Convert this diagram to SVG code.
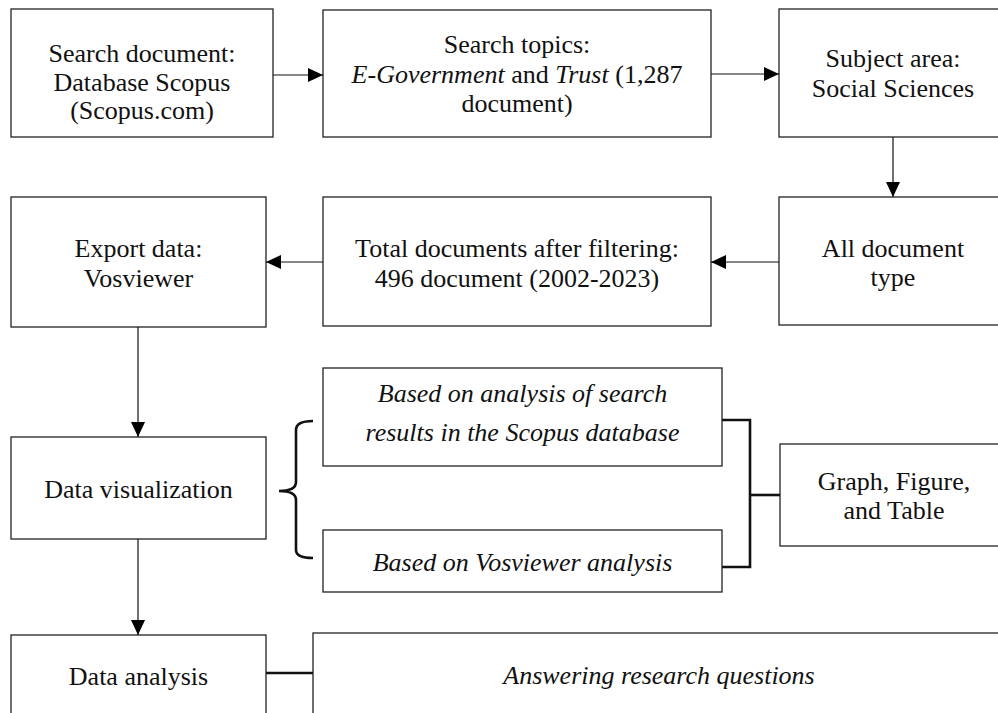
<svg xmlns="http://www.w3.org/2000/svg" width="998" height="713" viewBox="0 0 998 713">
<style>
.box{fill:#fff;stroke:#222;stroke-width:1.3}
text{font-family:"Liberation Serif","Times New Roman",serif;font-size:26px;fill:#111;text-anchor:middle}
.it{font-style:italic}
.conn{stroke:#111;stroke-width:1.2;fill:none}
.thick{stroke:#111;stroke-width:2.6;fill:none}
</style>
<defs>
<marker id="ah" markerUnits="userSpaceOnUse" markerWidth="16" markerHeight="14" refX="15" refY="7" orient="auto">
<path d="M0,0 L15,7 L0,14 Z" fill="#000"/>
</marker>
</defs>
<rect width="998" height="713" fill="#fff"/>
<g id="n1"><rect class="box" x="11" y="9" width="262" height="128"/>
<text x="142" y="62">Search document:</text><text x="142" y="91">Database Scopus</text><text x="142" y="119">(Scopus.com)</text></g>
<g id="n2"><rect class="box" x="323" y="10" width="388" height="127"/>
<text x="517" y="53">Search topics:</text>
<text x="517" y="83"><tspan class="it">E-Government</tspan> and <tspan class="it">Trust</tspan> (1,287</text>
<text x="517" y="112">document)</text></g>
<g id="n3"><rect class="box" x="779" y="9" width="228" height="128"/>
<text x="893" y="67">Subject area:</text><text x="893" y="97">Social Sciences</text></g>
<g id="n4"><rect class="box" x="779" y="197" width="228" height="128"/>
<text x="893" y="257">All document</text><text x="893" y="286">type</text></g>
<g id="n5"><rect class="box" x="323" y="197" width="388" height="129"/>
<text x="517" y="257">Total documents after filtering:</text><text x="517" y="287">496 document (2002-2023)</text></g>
<g id="n6"><rect class="box" x="11" y="197" width="255" height="130"/>
<text x="138.5" y="257">Export data:</text><text x="138.5" y="287">Vosviewer</text></g>
<g id="n7"><rect class="box" x="11" y="437" width="255" height="102"/>
<text x="138.5" y="498">Data visualization</text></g>
<g id="n8"><rect class="box" x="323" y="368" width="399" height="98"/>
<text class="it" x="522.5" y="402">Based on analysis of search</text>
<text class="it" x="522.5" y="441">results in the Scopus database</text></g>
<g id="n9"><rect class="box" x="323" y="530" width="399" height="62"/>
<text class="it" x="522.5" y="571">Based on Vosviewer analysis</text></g>
<g id="n10"><rect class="box" x="780" y="444" width="228" height="102"/>
<text x="894" y="490">Graph, Figure,</text><text x="894" y="519">and Table</text></g>
<g id="n11"><rect class="box" x="11" y="635" width="255" height="100"/>
<text x="138.5" y="685">Data analysis</text></g>
<g id="n12"><rect class="box" x="313" y="633" width="693" height="100"/>
<text class="it" x="659" y="684">Answering research questions</text></g>
<g id="connectors">
<line class="conn" x1="273" y1="75" x2="323" y2="75" marker-end="url(#ah)"/>
<line class="conn" x1="711" y1="74" x2="779" y2="74" marker-end="url(#ah)"/>
<line class="conn" x1="893" y1="137" x2="893" y2="197" marker-end="url(#ah)"/>
<line class="conn" x1="779" y1="262" x2="711" y2="262" marker-end="url(#ah)"/>
<line class="conn" x1="323" y1="262" x2="266" y2="262" marker-end="url(#ah)"/>
<line class="conn" x1="138" y1="327" x2="138" y2="437" marker-end="url(#ah)"/>
<line class="conn" x1="138" y1="539" x2="138" y2="635" marker-end="url(#ah)"/>
<path class="thick" d="M313,421 Q296,421 296,430 L296,482 Q296,491 279,491 Q296,491 296,500 L296,550 Q296,558 313,558"/>
<polyline class="thick" points="722,420 750,420 750,567 722,567"/>
<line class="thick" x1="750" y1="495" x2="780" y2="495"/>
<line class="thick" x1="266" y1="673" x2="313" y2="673"/>
</g>
</svg>
